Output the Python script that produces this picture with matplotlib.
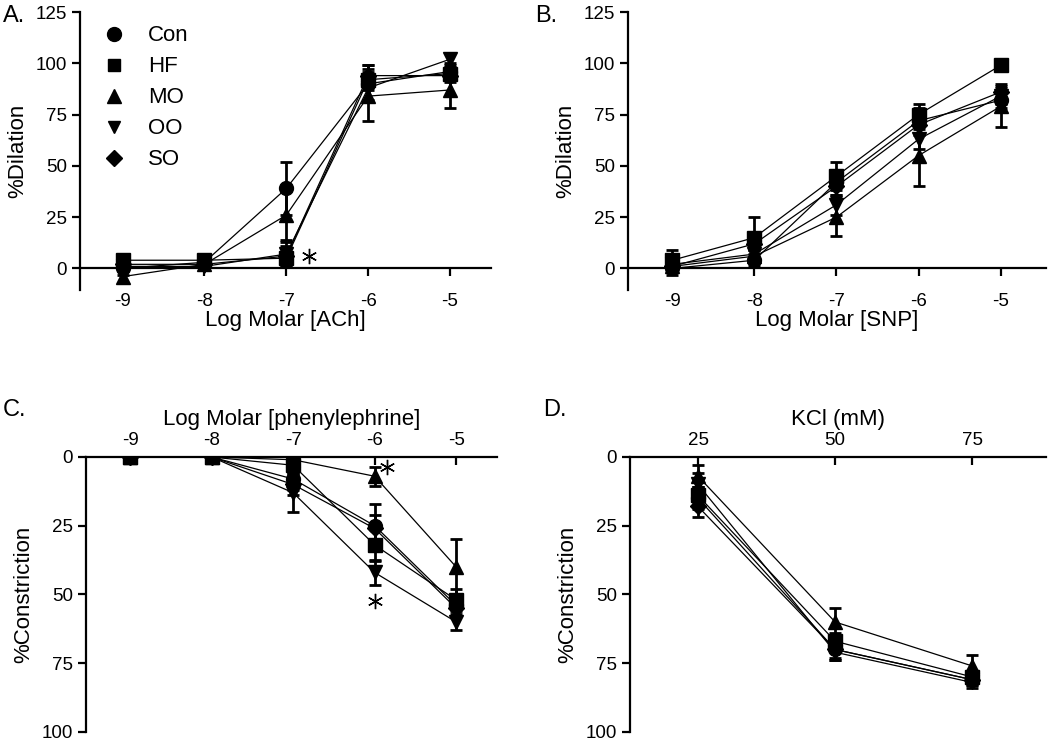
#!/usr/bin/env python3
"""Dilation and constriction responses for five diet groups (four panels)."""

import matplotlib
matplotlib.use("Agg")
import matplotlib.pyplot as plt  # type: ignore
from matplotlib.lines import Line2D  # type: ignore

plt.rcParams["font.family"] = ["Liberation Sans", "DejaVu Sans"]
plt.rcParams["axes.unicode_minus"] = False

groups = ["Con", "HF", "MO", "OO", "SO"]
markers = ["o", "s", "^", "v", "D"]
sizes = [10, 9.5, 10, 10, 8]
legend_sizes = [10, 8.5, 10, 8.5, 8]

log_dose = [-9, -8, -7, -6, -5]
kcl_dose = [25, 50, 75]

# A. ACh dilation (rows follow groups)
ach_mean = [
    [0, 3, 39, 90, 96],
    [4, 4, 5, 92, 95],
    [-4, 2, 26, 84, 87],
    [1, 1, 7, 88, 102],
    [2, 2, 6, 94, 94],
]
ach_sem = [
    [3, 3, 13, 9, 4],
    [3, 3, 3, 5, 3],
    [3, 2, 12, 12, 9],
    [2, 2, 6, 6, 3],
    [2, 2, 5, 5, 3],
]

# B. SNP dilation
snp_mean = [
    [0, 4, 42, 72, 82],
    [4, 15, 45, 75, 99],
    [1, 6, 25, 55, 79],
    [2, 7, 31, 63, 84],
    [1, 12, 40, 70, 86],
]
snp_sem = [
    [3, 3, 6, 6, 4],
    [5, 10, 7, 5, 2],
    [2, 3, 9, 15, 10],
    [2, 3, 5, 5, 4],
    [2, 3, 5, 5, 4],
]

# C. phenylephrine constriction
phe_mean = [
    [0, 0, 8, 25, 54],
    [0, 0, 3, 32, 52],
    [0, 0, 1, 7, 40],
    [0, 0, 13, 42, 60],
    [0, 0, 10, 26, 55],
]
phe_sem = [
    [0.5, 0.5, 4, 8, 4],
    [0.5, 0.5, 3, 6, 4],
    [0.5, 0.5, 2, 3.5, 10],
    [0.5, 0.5, 7, 4.5, 3],
    [0.5, 0.5, 4, 5, 3],
]

# D. KCl constriction
kcl_mean = [
    [15, 70, 81],
    [14, 67, 80],
    [7, 60, 76],
    [10, 71, 82],
    [18, 70, 81],
]
kcl_sem = [
    [4, 3, 2],
    [3, 3, 2],
    [4, 5, 4],
    [4, 3, 2],
    [4, 4, 2],
]

# significance marks (x, y)
ach_star = ([-6.72], [6])
phe_star = ([-5.85, -6.0], [3.8, 52.5])


def draw_series(ax, x, means, sems):
    """Plot each group with error bars."""
    for mean, sem, mk, ms in zip(means, sems, markers, sizes):
        ax.errorbar(x, mean, yerr=sem, fmt=mk + "-", color="black", ms=ms,
                    lw=0.9, elinewidth=2, capsize=4.5, capthick=2)


def draw_stars(ax, star):
    ax.plot(star[0], star[1], ls="none", marker=(6, 2, 0), ms=11,
            mew=1.0, color="black")


def dilation_axes(ax, xlabel):
    ax.set_xlim(-9.52, -4.5)
    ax.set_ylim(-10.5, 125)
    ax.set_yticks([0, 25, 50, 75, 100, 125])
    ax.set_xticks(log_dose)
    ax.spines["bottom"].set_position(("data", 0))
    ax.spines["top"].set_visible(False)
    ax.spines["right"].set_visible(False)
    for s in ("left", "bottom"):
        ax.spines[s].set_linewidth(1.6)
    ax.tick_params(axis="y", direction="out", length=6, width=1.6, labelsize=13.5)
    ax.tick_params(axis="x", direction="out", length=6, width=1.6, labelsize=13.5, pad=12)
    ax.set_ylabel("%Dilation", fontsize=16, labelpad=5)
    ax.set_xlabel(xlabel, fontsize=16, labelpad=0)


def constriction_axes(ax, xlabel):
    ax.set_ylim(100, 0)
    ax.set_yticks([0, 25, 50, 75, 100])
    ax.xaxis.tick_top()
    ax.xaxis.set_label_position("top")
    ax.spines["bottom"].set_visible(False)
    ax.spines["right"].set_visible(False)
    for s in ("left", "top"):
        ax.spines[s].set_linewidth(1.6)
    ax.tick_params(axis="y", direction="out", length=6, width=1.6, labelsize=13.5)
    ax.tick_params(axis="x", direction="in", length=6, width=1.6, labelsize=13.5, pad=6)
    ax.set_ylabel("%Constriction", fontsize=16, labelpad=5)
    ax.set_xlabel(xlabel, fontsize=16, labelpad=5)


fig = plt.figure(figsize=(10.5, 7.42), dpi=100)
ax_a = fig.add_axes([0.0762, 0.6092, 0.3914, 0.3746])
ax_b = fig.add_axes([0.598, 0.6092, 0.398, 0.3746])
ax_c = fig.add_axes([0.0819, 0.0135, 0.3914, 0.3706])
ax_d = fig.add_axes([0.600, 0.0135, 0.396, 0.3706])

draw_series(ax_a, log_dose, ach_mean, ach_sem)
dilation_axes(ax_a, "Log Molar [ACh]")
draw_stars(ax_a, ach_star)

handles = [Line2D([], [], marker=mk, color="black", ls="none", ms=ms)
           for mk, ms in zip(markers, legend_sizes)]
ax_a.legend(handles, groups, loc="upper left", bbox_to_anchor=(-0.003, 1.0),
            frameon=False, fontsize=16, labelspacing=0.45, handletextpad=0.5,
            borderaxespad=0.2)

draw_series(ax_b, log_dose, snp_mean, snp_sem)
dilation_axes(ax_b, "Log Molar [SNP]")
ax_b.set_xlim(-9.54, -4.45)

draw_series(ax_c, log_dose, phe_mean, phe_sem)
constriction_axes(ax_c, "Log Molar [phenylephrine]")
ax_c.set_xlim(-9.54, -4.5)
ax_c.set_xticks(log_dose)
draw_stars(ax_c, phe_star)

draw_series(ax_d, kcl_dose, kcl_mean, kcl_sem)
constriction_axes(ax_d, "KCl (mM)")
ax_d.set_xlim(12.6, 88.4)
ax_d.set_xticks(kcl_dose)

for label, x, y in [("A.", 0.003, 0.978), ("B.", 0.51, 0.978),
                    ("C.", 0.003, 0.447), ("D.", 0.517, 0.447)]:
    fig.text(x, y, label, fontsize=17, va="center", ha="left")

fig.savefig("out.png", dpi=100)
